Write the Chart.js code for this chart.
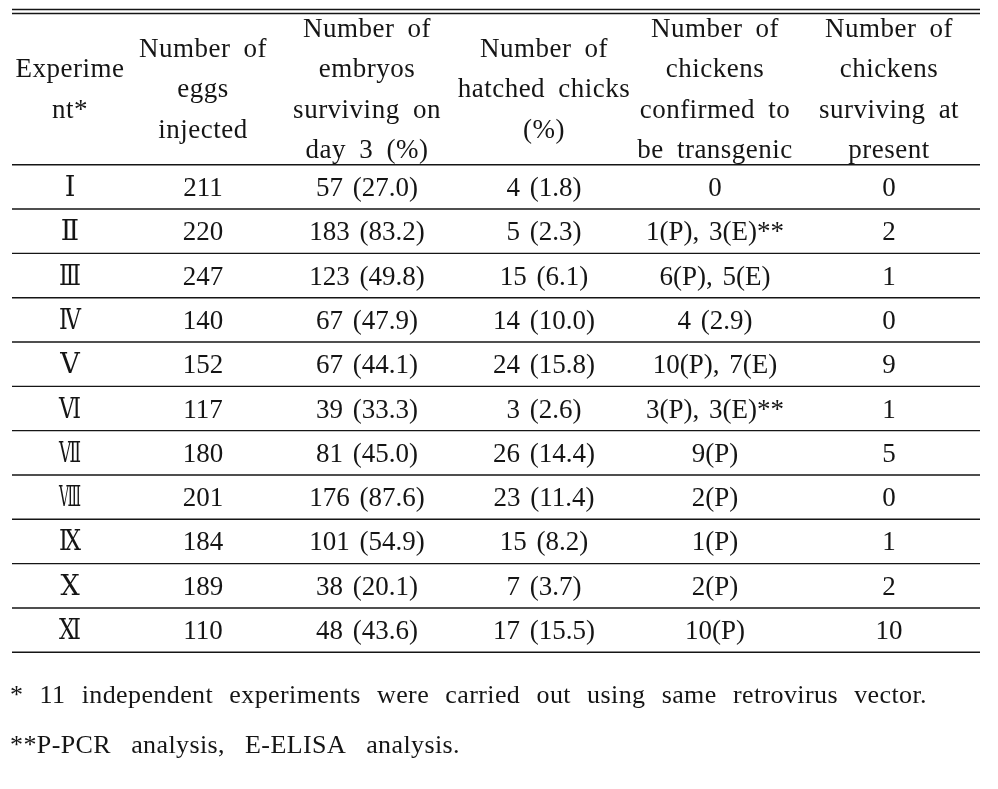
<!DOCTYPE html>
<html>
<head>
<meta charset="utf-8">
<script src="https://cdn.jsdelivr.net/npm/chart.js@4.4.1/dist/chart.umd.min.js"></script>
<style>
  html, body { margin: 0; padding: 0; background: #fff; }
  #wrap { width: 998px; height: 789px; }
</style>
</head>
<body>
<div id="wrap"><canvas id="table-chart" width="998" height="789"></canvas></div>
<script>
// table values
const experiments = ['Ⅰ', 'Ⅱ', 'Ⅲ', 'Ⅳ', 'Ⅴ', 'Ⅵ', 'Ⅶ', 'Ⅷ', 'Ⅸ', 'Ⅹ', 'Ⅺ'];
const eggsInjected = [211, 220, 247, 140, 152, 117, 180, 201, 184, 189, 110];
const embryosDay3 = [57, 183, 123, 67, 67, 39, 81, 176, 101, 38, 48];
const embryosPct = [27.0, 83.2, 49.8, 47.9, 44.1, 33.3, 45.0, 87.6, 54.9, 20.1, 43.6];
const hatchedChicks = [4, 5, 15, 14, 24, 3, 26, 23, 15, 7, 17];
const hatchedPct = [1.8, 2.3, 6.1, 10.0, 15.8, 2.6, 14.4, 11.4, 8.2, 3.7, 15.5];
const transgenic = ['0', '1(P), 3(E)**', '6(P), 5(E)', '4 (2.9)', '10(P), 7(E)', '3(P), 3(E)**',
  '9(P)', '2(P)', '1(P)', '2(P)', '10(P)'];
const survivingNow = [0, 2, 1, 0, 9, 1, 5, 0, 1, 2, 10];

const headers = [
  ['Experime', 'nt*'],
  ['Number of', 'eggs', 'injected'],
  ['Number of', 'embryos', 'surviving on', 'day 3 (%)'],
  ['Number of', 'hatched chicks', '(%)'],
  ['Number of', 'chickens', 'confirmed to', 'be transgenic'],
  ['Number of', 'chickens', 'surviving at', 'present']
];
const footnotes = [
  '* 11 independent experiments were carried out using same retrovirus vector.',
  '**P-PCR analysis, E-ELISA analysis.'
];

// layout (pixels)
const colCenters = [70, 203, 367, 544, 715, 889];
const footWidths = [917, 450];
const ink = '#151515';
const serif = '"Liberation Serif", "DejaVu Serif", serif';

function cellText(row) {
  return [
    experiments[row],
    String(eggsInjected[row]),
    embryosDay3[row] + ' (' + embryosPct[row].toFixed(1) + ')',
    hatchedChicks[row] + ' (' + hatchedPct[row].toFixed(1) + ')',
    transgenic[row],
    String(survivingNow[row])
  ];
}

const tablePlugin = {
  id: 'tableDraw',
  afterDraw(chart) {
    const ctx = chart.ctx;
    const xs = chart.scales.x, ys = chart.scales.y;
    const area = chart.chartArea;
    const band = Math.abs(ys.getPixelForValue(1) - ys.getPixelForValue(0));
    ctx.save();
    ctx.strokeStyle = ink;
    ctx.fillStyle = ink;

    // rules
    function rule(y, w) {
      ctx.lineWidth = w;
      ctx.beginPath();
      ctx.moveTo(area.left, y);
      ctx.lineTo(area.right, y);
      ctx.stroke();
    }
    rule(9.5, 1.4);
    rule(13.5, 1.4);
    rule(area.top, 1.4);
    experiments.forEach((e, i) => rule(ys.getPixelForValue(i) + band / 2, 1.4));

    // header
    ctx.font = '27px ' + serif;
    ctx.textAlign = 'center';
    ctx.textBaseline = 'alphabetic';
    ctx.letterSpacing = '0.5px';
    ctx.wordSpacing = '6px';
    const lineGap = 40.5, firstBase = 36.5;
    headers.forEach((lines, c) => {
      const start = (4 - lines.length) / 2;
      lines.forEach((t, k) => {
        ctx.fillText(t, xs.getPixelForValue(colCenters[c]), firstBase + (start + k) * lineGap);
      });
    });

    // body
    ctx.letterSpacing = '0px';
    ctx.wordSpacing = '3px';
    experiments.forEach((e, r) => {
      const yc = ys.getPixelForValue(r) + 9;
      cellText(r).forEach((t, c) => {
        const x = xs.getPixelForValue(colCenters[c]);
        if (c === 0) ctx.fillText(t, x, yc, 22);
        else ctx.fillText(t, x, yc);
      });
    });

    // footnotes, spread by word spacing to their printed width
    ctx.font = '26px ' + serif;
    ctx.textAlign = 'left';
    const footBase = [703, 753];
    footnotes.forEach((t, i) => {
      ctx.wordSpacing = '0px';
      ctx.letterSpacing = '0.4px';
      const natural = ctx.measureText(t).width;
      const gaps = t.split(' ').length - 1;
      ctx.wordSpacing = Math.max(0, (footWidths[i] - natural) / gaps) + 'px';
      ctx.fillText(t, 10, footBase[i]);
    });
    ctx.restore();
  }
};

new Chart(document.getElementById('table-chart'), {
  type: 'scatter',
  data: {
    labels: experiments,
    datasets: [{
      data: experiments.map((e, i) => ({ x: colCenters[0], y: e })),
      pointRadius: 0,
      showLine: false
    }]
  },
  options: {
    responsive: false,
    animation: false,
    events: [],
    layout: { padding: { left: 12, right: 18, top: 164.7, bottom: 136.7 } },
    scales: {
      x: { type: 'linear', min: 12, max: 980, display: false },
      y: { type: 'category', labels: experiments, offset: true, display: false }
    },
    plugins: { legend: { display: false }, tooltip: { enabled: false } }
  },
  plugins: [tablePlugin]
});
</script>
</body>
</html>
